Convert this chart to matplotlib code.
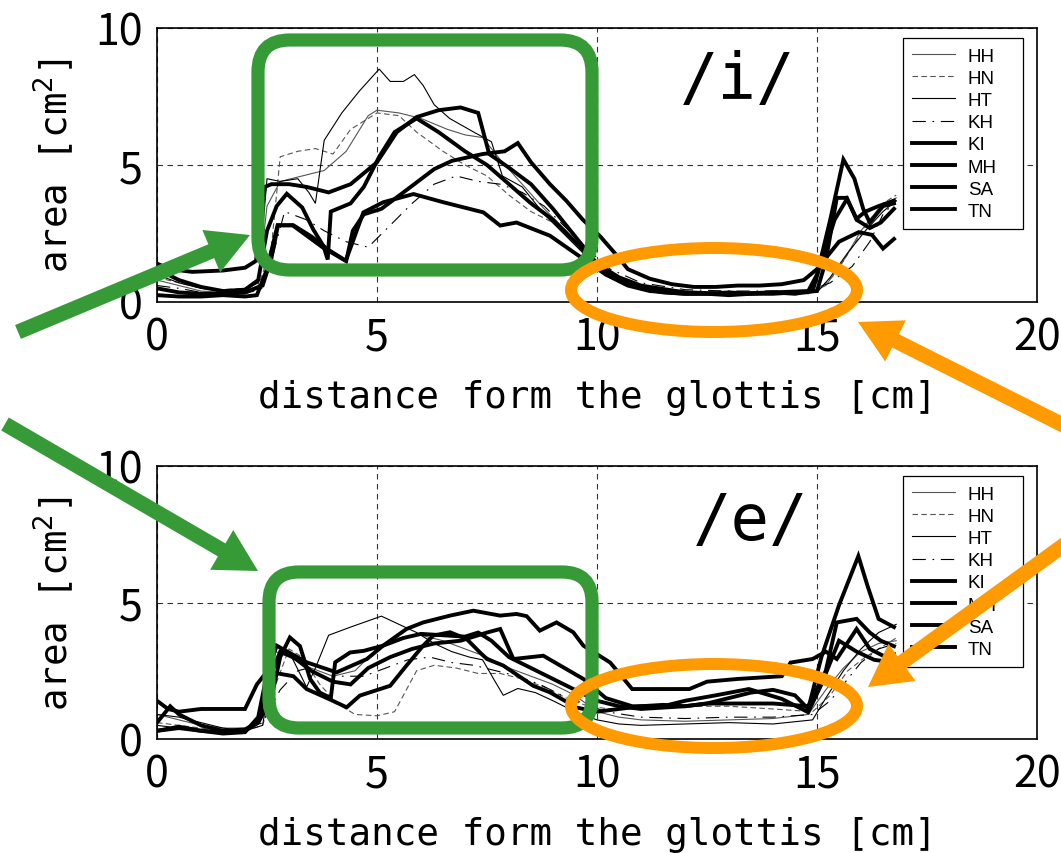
import matplotlib
matplotlib.use('Agg')
import matplotlib.pyplot as plt
from matplotlib.patches import FancyBboxPatch, Ellipse, FancyArrow

plt.rcParams['font.family'] = ['Noto Sans CJK JP', 'DejaVu Sans']

speakers = ['HH', 'HN', 'HT', 'KH', 'KI', 'MH', 'SA', 'TN']
x_ticks = [0, 5, 10, 15, 20]
y_ticks = [0, 5, 10]
x_label = 'distance form the glottis [cm]'
y_label = 'area [cm$^2$]'
vowel_i = '/i/'
vowel_e = '/e/'

# ---------------- /i/ ----------------
i_HH_x = [0, 0.5, 1, 1.5, 2, 2.3, 2.5, 2.8, 3.3, 3.8, 4.3, 4.8, 5.0, 5.5, 6.0, 6.6, 7.0, 7.4, 7.8, 8.3, 8.8, 9.3, 9.8, 10.3, 11, 12, 13, 14, 14.8, 15.2, 15.6, 16.0, 16.4, 16.8]
i_HH_y = [0.8, 0.6, 0.4, 0.35, 0.4, 0.6, 3.5, 4.4, 4.6, 4.8, 5.5, 6.8, 7.0, 6.9, 6.7, 6.3, 6.1, 6.0, 5.2, 4.3, 3.4, 2.6, 1.7, 1.0, 0.6, 0.35, 0.3, 0.3, 0.3, 0.6, 1.5, 2.6, 3.4, 3.8]
i_HN_x = [0, 0.5, 1, 1.5, 2, 2.35, 2.6, 2.8, 3.2, 3.6, 4.0, 4.4, 5.0, 5.5, 5.9, 6.5, 7.0, 7.5, 8.0, 8.5, 9.0, 9.5, 10.0, 10.5, 11, 12, 13, 14, 15, 15.4, 15.8, 16.2, 16.5, 16.8]
i_HN_y = [0.9, 0.7, 0.5, 0.45, 0.5, 0.8, 2.0, 5.3, 5.5, 5.6, 5.4, 6.3, 6.9, 6.8, 6.2, 5.5, 5.0, 4.6, 3.9, 3.3, 2.9, 2.2, 1.4, 0.9, 0.6, 0.4, 0.35, 0.35, 0.4, 1.0, 2.0, 3.0, 3.6, 3.9]
i_HT_x = [0, 0.5, 1, 1.5, 2, 2.3, 2.5, 2.8, 3.2, 3.45, 3.6, 3.8, 4.2, 4.6, 5.05, 5.3, 5.6, 5.85, 6.05, 6.3, 6.65, 7.2, 7.6, 7.85, 8.3, 8.8, 9.3, 9.8, 10.3, 11, 12, 13, 14, 15, 15.3, 15.7, 16.1, 16.5, 16.8]
i_HT_y = [1.0, 0.7, 0.5, 0.4, 0.45, 0.7, 4.5, 4.4, 4.5, 4.0, 3.6, 5.9, 6.9, 7.7, 8.5, 8.05, 8.05, 8.3, 7.9, 7.2, 6.7, 6.2, 5.85, 4.6, 4.2, 3.2, 2.4, 1.6, 0.9, 0.5, 0.3, 0.25, 0.3, 0.35, 0.9, 1.8, 2.6, 3.3, 3.7]
i_KH_x = [0, 0.5, 1, 1.5, 2, 2.4, 2.6, 2.9, 3.4, 3.8, 4.3, 4.8, 5.3, 5.8, 6.3, 6.8, 7.3, 7.8, 8.3, 8.8, 9.3, 9.8, 10.3, 11, 12, 13, 14, 14.8, 15.3, 15.8, 16.2, 16.5, 16.8]
i_KH_y = [0.6, 0.5, 0.35, 0.3, 0.3, 0.5, 1.5, 3.3, 3.0, 2.6, 2.2, 2.0, 2.8, 3.6, 4.3, 4.6, 4.4, 4.3, 4.0, 3.5, 2.7, 1.9, 1.2, 0.7, 0.45, 0.4, 0.4, 0.4, 0.7, 1.3, 2.2, 3.2, 3.7]
i_KI_x = [0, 0.3, 0.8, 1.5, 2.0, 2.25, 2.45, 2.6, 3.0, 3.4, 3.9, 4.4, 5.0, 5.45, 5.9, 6.4, 6.9, 7.3, 7.55, 8.0, 8.5, 9.0, 9.5, 10.0, 10.5, 11.0, 12.0, 13.0, 14.0, 14.8, 15.0, 15.3, 15.6, 15.85, 16.05, 16.2, 16.5, 16.75]
i_KI_y = [1.4, 1.2, 1.1, 1.15, 1.25, 1.5, 4.2, 4.3, 4.3, 4.2, 4.0, 4.3, 5.1, 6.2, 6.75, 7.0, 7.1, 6.9, 5.4, 4.9, 4.3, 3.4, 2.4, 1.4, 0.9, 0.6, 0.35, 0.3, 0.35, 0.4, 1.0, 3.0, 5.2, 4.5, 3.4, 2.9, 3.5, 3.6]
i_MH_x = [0, 0.5, 1.0, 1.5, 2.0, 2.3, 2.5, 2.72, 2.95, 3.3, 3.55, 3.78, 3.88, 3.95, 4.4, 4.7, 5.05, 5.4, 5.9, 6.4, 7.0, 7.5, 8.0, 8.5, 9.0, 9.5, 10.0, 10.5, 11.0, 11.5, 12.0, 12.5, 13.0, 13.5, 14.0, 14.5, 15.0, 15.2, 15.45, 15.68, 15.9, 16.2, 16.45, 16.75]
i_MH_y = [1.2, 0.8, 0.55, 0.4, 0.45, 0.8, 2.6, 3.5, 3.95, 3.45, 2.65, 2.05, 1.55, 3.3, 3.6, 4.2, 5.3, 6.2, 6.7, 6.2, 5.5, 5.0, 4.3, 3.6, 3.0, 2.2, 1.4, 0.8, 0.5, 0.35, 0.3, 0.3, 0.25, 0.3, 0.3, 0.35, 0.4, 1.5, 3.8, 3.8, 3.0, 2.7, 2.9, 3.4]
i_SA_x = [0, 0.5, 1.0, 1.5, 2.0, 2.4, 2.6, 2.75, 3.1, 3.5, 3.9, 4.3, 4.45, 4.7, 5.1, 5.6, 6.3, 6.7, 7.4, 7.9, 8.2, 8.5, 8.93, 9.3, 9.68, 10.07, 10.45, 10.7, 11.2, 11.7, 12.2, 12.7, 13.2, 13.7, 14.2, 14.7, 15.0, 15.3, 15.5, 15.95, 16.25, 16.5, 16.75]
i_SA_y = [0.5, 0.35, 0.3, 0.3, 0.35, 0.6, 1.6, 2.8, 2.8, 2.4, 1.9, 1.5, 2.6, 3.2, 3.4, 4.0, 4.85, 5.15, 5.4, 5.5, 5.8, 5.1, 4.3, 3.7, 3.0, 2.4, 1.7, 1.2, 0.85, 0.65, 0.55, 0.55, 0.6, 0.6, 0.65, 0.8, 1.2, 1.8, 2.2, 2.55, 2.45, 1.95, 2.3]
i_TN_x = [0, 0.5, 1.0, 1.5, 2.0, 2.27, 2.5, 2.74, 3.08, 3.76, 4.29, 4.69, 5.14, 5.83, 6.51, 7.42, 7.8, 8.17, 8.93, 9.69, 10.2, 10.7, 11.2, 12.0, 12.5, 13.0, 13.5, 14.0, 14.5, 14.9, 15.1, 15.4, 15.68, 15.9, 16.1, 16.4, 16.75]
i_TN_y = [0.25, 0.2, 0.2, 0.25, 0.2, 0.25, 1.2, 2.8, 2.8, 2.0, 1.5, 3.27, 3.64, 3.94, 3.64, 3.27, 2.79, 2.9, 2.42, 1.57, 1.0, 0.6, 0.4, 0.3, 0.3, 0.35, 0.3, 0.35, 0.3, 0.4, 1.5, 3.0, 3.76, 3.04, 3.3, 3.5, 3.7]

# ---------------- /e/ ----------------
e_HH_x = [0, 0.5, 1, 1.5, 2, 2.4, 2.7, 3.0, 3.5, 4.0, 4.5, 5.0, 5.5, 6.0, 6.5, 7.0, 7.5, 8.0, 8.5, 9.0, 9.5, 10, 10.5, 11, 12, 13, 14, 14.8, 15.2, 15.6, 16.0, 16.4, 16.8]
e_HH_y = [0.9, 0.7, 0.5, 0.4, 0.4, 0.8, 3.2, 3.0, 2.6, 2.3, 2.5, 3.3, 3.7, 3.8, 3.6, 3.3, 3.0, 2.6, 2.3, 2.0, 1.6, 1.0, 0.8, 0.7, 0.65, 0.7, 0.75, 0.9, 1.8, 2.6, 3.2, 3.5, 3.6]
e_HN_x = [0, 0.5, 1, 1.5, 2, 2.4, 2.7, 3.0, 3.3, 3.7, 4.1, 4.5, 5.0, 5.4, 5.9, 6.3, 6.8, 7.3, 7.8, 8.3, 8.8, 9.3, 9.8, 10.3, 11, 12, 13, 14, 14.9, 15.3, 15.7, 16.1, 16.5, 16.8]
e_HN_y = [0.6, 0.5, 0.4, 0.3, 0.3, 0.5, 2.0, 3.3, 3.0, 2.0, 1.3, 0.9, 0.85, 1.0, 2.5, 2.7, 2.6, 2.4, 2.4, 2.2, 1.9, 1.5, 1.2, 1.1, 1.15, 1.2, 1.2, 1.1, 1.0, 1.6, 2.5, 3.0, 3.4, 3.7]
e_HT_x = [0, 0.5, 1, 1.5, 2, 2.4, 2.7, 3.0, 3.4, 3.6, 3.9, 4.4, 5.1, 5.5, 5.9, 6.3, 6.7, 7.1, 7.4, 7.65, 7.87, 8.2, 8.6, 9.0, 9.5, 10.0, 10.5, 11, 12, 13, 14, 14.9, 15.2, 15.6, 16.0, 16.4, 16.8]
e_HT_y = [0.9, 0.8, 0.6, 0.4, 0.3, 0.5, 3.4, 3.2, 1.9, 2.6, 3.8, 4.1, 4.5, 4.2, 3.9, 3.5, 3.2, 3.0, 2.9, 2.2, 1.6, 1.85, 1.7, 1.4, 1.0, 0.7, 0.55, 0.5, 0.55, 0.6, 0.55, 0.7, 1.5, 2.5, 3.3, 3.9, 4.2]
e_KH_x = [0, 0.5, 1, 1.5, 2, 2.4, 2.8, 3.2, 3.7, 4.2, 4.7, 5.2, 5.7, 6.2, 6.7, 7.2, 7.7, 8.2, 8.7, 9.2, 9.7, 10.2, 11, 12, 13, 14, 14.9, 15.3, 15.7, 16.0, 16.4, 16.8]
e_KH_y = [0.5, 0.4, 0.3, 0.25, 0.3, 0.6, 1.8, 2.5, 2.7, 2.3, 2.3, 2.6, 2.9, 3.0, 2.8, 2.7, 2.5, 2.3, 2.0, 1.6, 1.3, 1.0, 0.8, 0.75, 0.8, 0.8, 0.9, 1.4, 2.2, 2.8, 3.3, 3.5]
e_KI_x = [0, 0.25, 0.5, 1.0, 1.5, 2.0, 2.27, 2.49, 2.75, 3.1, 3.4, 3.9, 4.31, 4.61, 5.3, 5.67, 6.05, 6.28, 6.66, 7.04, 7.34, 7.5, 7.87, 8.55, 8.93, 9.54, 10.0, 10.5, 11.0, 11.5, 12.0, 12.5, 13.0, 13.5, 14.0, 14.4, 14.8, 15.2, 15.45, 15.9, 16.2, 16.45, 16.75]
e_KI_y = [1.4, 1.1, 1.0, 1.1, 1.1, 1.1, 2.0, 2.45, 2.4, 2.3, 1.83, 1.47, 1.16, 1.59, 1.95, 2.69, 3.42, 3.79, 3.91, 3.66, 3.17, 2.93, 2.69, 1.95, 1.71, 1.15, 1.0, 1.1, 1.2, 1.25, 1.2, 1.3, 1.3, 1.3, 1.3, 1.25, 1.2, 2.5, 4.27, 4.4, 3.9, 3.6, 3.4]
e_MH_x = [0, 0.3, 0.5, 1.0, 1.5, 2.0, 2.3, 2.6, 2.8, 3.02, 3.25, 3.48, 3.7, 3.95, 4.05, 4.39, 4.7, 5.14, 5.6, 6.0, 6.5, 7.0, 7.3, 7.6, 8.0, 8.5, 9.0, 9.5, 10.0, 10.5, 11.0, 11.5, 12.0, 12.5, 13.0, 13.5, 14.0, 14.5, 14.8, 15.1, 15.5, 15.94, 16.15, 16.4, 16.75]
e_MH_y = [0.6, 1.2, 0.9, 0.5, 0.3, 0.35, 0.6, 1.5, 3.0, 3.72, 3.4, 2.2, 1.7, 1.5, 2.81, 3.17, 3.23, 3.42, 3.7, 3.85, 3.8, 3.75, 3.9, 3.6, 3.0, 2.6, 2.2, 1.8, 1.4, 1.2, 1.1, 1.15, 1.2, 1.3, 1.5, 1.7, 1.8, 1.6, 1.1, 3.0, 4.9, 6.7, 5.6, 4.4, 4.1]
e_SA_x = [0, 0.5, 1.0, 1.5, 2.0, 2.3, 2.5, 2.72, 3.4, 4.08, 4.77, 5.14, 5.67, 6.05, 6.66, 7.19, 7.8, 8.17, 8.4, 8.7, 9.08, 9.46, 9.69, 10.3, 10.8, 11.5, 12.1, 12.5, 13.2, 14.2, 14.4, 14.9, 15.2, 15.45, 15.9, 16.2, 16.5, 16.75]
e_SA_y = [0.3, 0.4, 0.3, 0.2, 0.25, 0.8, 2.4, 3.42, 2.81, 2.44, 2.93, 3.42, 4.03, 4.27, 4.52, 4.7, 4.52, 4.58, 4.5, 3.97, 4.27, 3.91, 3.42, 2.8, 1.83, 1.83, 1.83, 2.1, 2.2, 2.3, 2.8, 2.93, 3.2, 2.93, 4.03, 3.3, 3.05, 3.1]
e_TN_x = [0, 0.5, 1.0, 1.5, 2.0, 2.3, 2.5, 2.8, 3.1, 3.5, 4.0, 4.4, 4.8, 5.3, 5.8, 6.3, 6.9, 7.5, 7.8, 8.1, 8.78, 9.69, 10.2, 10.8, 11.5, 12.0, 12.7, 13.45, 14.2, 14.8, 15.1, 15.5, 15.9, 16.3, 16.75]
e_TN_y = [0.3, 0.45, 0.3, 0.25, 0.3, 0.6, 2.0, 3.2, 3.0, 2.5, 2.1, 2.0, 2.6, 3.0, 3.3, 3.5, 3.6, 3.9, 4.03, 2.93, 3.05, 2.2, 1.5, 1.2, 1.2, 1.4, 1.6, 1.83, 1.47, 0.98, 2.0, 3.6, 3.2, 2.9, 2.8]

i_series = [(i_HH_x, i_HH_y), (i_HN_x, i_HN_y), (i_HT_x, i_HT_y), (i_KH_x, i_KH_y),
            (i_KI_x, i_KI_y), (i_MH_x, i_MH_y), (i_SA_x, i_SA_y), (i_TN_x, i_TN_y)]
e_series = [(e_HH_x, e_HH_y), (e_HN_x, e_HN_y), (e_HT_x, e_HT_y), (e_KH_x, e_KH_y),
            (e_KI_x, e_KI_y), (e_MH_x, e_MH_y), (e_SA_x, e_SA_y), (e_TN_x, e_TN_y)]

styles = [
    dict(color='#555555', lw=0.8, ls='-'),
    dict(color='#555555', lw=0.8, ls=(0, (5, 3))),
    dict(color='black', lw=0.8, ls='-'),
    dict(color='black', lw=0.8, ls=(0, (12, 6, 1.5, 6))),
    dict(color='black', lw=2.8, ls='-'),
    dict(color='black', lw=2.8, ls='-'),
    dict(color='black', lw=2.8, ls='-'),
    dict(color='black', lw=2.8, ls='-'),
]

W, H = 1061, 854
fig = plt.figure(figsize=(W / 100, H / 100), dpi=100)
ax_i = fig.add_axes([157 / W, 1 - 303 / H, 880 / W, 274 / H])
ax_e = fig.add_axes([157 / W, 1 - 740 / H, 880 / W, 273 / H])


def setup(ax, series, vowel, vowel_xy):
    for (xs, ys), st, name in zip(series, styles, speakers):
        ax.plot(xs, ys, label=name, solid_joinstyle='miter', **st)
    ax.set_xlim(0, 20)
    ax.set_ylim(0, 10)
    ax.set_xticks(x_ticks)
    ax.set_yticks(y_ticks)
    ax.grid(True, color='#333333', lw=0.8, ls=(0, (5, 4)))
    ax.tick_params(length=0, labelsize=31, pad=10)
    for s in ax.spines.values():
        s.set_linewidth(1.2)
    ax.set_xlabel(x_label, fontsize=27, family='DejaVu Sans Mono', labelpad=14)
    ax.set_ylabel(y_label, fontsize=27, family='DejaVu Sans Mono', labelpad=14)
    ax.text(*vowel_xy, vowel, transform=ax.transAxes, fontsize=46,
            family='DejaVu Sans Mono', ha='center', va='center')
    leg = ax.legend(loc='upper left', bbox_to_anchor=(0.8477, 0.0, 0.1364, 0.963),
                    mode='expand', borderaxespad=0,
                    prop={'family': 'Liberation Sans', 'size': 13.5},
                    handlelength=2.25, labelspacing=0.27, handletextpad=0.7,
                    borderpad=0.5, fancybox=False, edgecolor='black', framealpha=1)
    leg.get_frame().set_linewidth(0.9)


setup(ax_i, i_series, vowel_i, (0.66, 0.81))
setup(ax_e, e_series, vowel_e, (0.675, 0.80))

# ---- annotation overlay (figure pixel coordinates) ----
GREEN = '#369a37'
ORANGE = '#ff9a00'
ov = fig.add_axes([0, 0, 1, 1], zorder=10)
ov.set_xlim(0, W)
ov.set_ylim(H, 0)
ov.axis('off')
ov.patch.set_alpha(0)

ov.add_patch(FancyBboxPatch((258, 41), 334, 230, boxstyle='round,pad=0,rounding_size=32',
                            fill=False, ec=GREEN, lw=9.5))
ov.add_patch(FancyBboxPatch((269, 573), 323, 156, boxstyle='round,pad=0,rounding_size=30',
                            fill=False, ec=GREEN, lw=9.5))
ov.add_patch(Ellipse((714, 291), 286, 84, fill=False, ec=ORANGE, lw=8.6))
ov.add_patch(Ellipse((714, 707), 286, 84, fill=False, ec=ORANGE, lw=8.6))

arrows = [((18, 333), (250, 236), GREEN), ((5, 425), (258, 572), GREEN),
          ((1075, 432), (858, 323), ORANGE), ((1075, 538), (868, 688), ORANGE)]
for (x0, y0), (x1, y1), c in arrows:
    ov.add_patch(FancyArrow(x0, y0, x1 - x0, y1 - y0, width=15, head_width=46,
                            head_length=42, length_includes_head=True, color=c, lw=0))

fig.savefig('out.png', dpi=100)
